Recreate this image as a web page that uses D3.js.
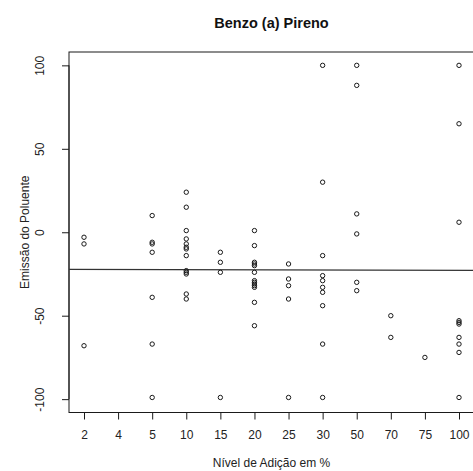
<!DOCTYPE html>
<html>
<head>
<meta charset="utf-8">
<script src="https://cdn.jsdelivr.net/npm/d3@7"></script>
<style>
  html, body { margin: 0; padding: 0; background: #fff; }
  svg { display: block; font-family: "Liberation Sans", Arial, sans-serif; }
</style>
</head>
<body>
<svg id="chart" width="473" height="471"></svg>
<script>
// Addition levels (%) shown as ordered categories along x
const levels = ["2", "4", "5", "10", "15", "20", "25", "30", "50", "70", "75", "100"];

// Pollutant emission observed at each addition level
const level2   = [-3, -7, -68];
const level4   = [];
const level5   = [10, -6, -7, -12, -39, -67, -99];
const level10  = [24, 15, 1, -4, -7, -9, -10, -14, -23, -24, -25, -37, -40];
const level15  = [-12, -18, -24, -99];
const level20  = [1, -8, -18, -19, -20, -24, -29, -30, -31, -32, -33, -42, -56];
const level25  = [-19, -28, -32, -40, -99];
const level30  = [100, 30, -14, -26, -29, -33, -36, -44, -67, -99];
const level50  = [100, 88, 11, -1, -30, -35];
const level70  = [-50, -63];
const level75  = [-75];
const level100 = [100, 65, 6, -53, -54, -55, -63, -67, -72, -99];

const emissions = [level2, level4, level5, level10, level15, level20,
                   level25, level30, level50, level70, level75, level100];

// Fitted linear trend (emission against level index)
const trendIntercept = -22.17;
const trendSlope = -0.059;

const yTicks = [-100, -50, 0, 50, 100];

const title = "Benzo (a) Pireno";
const xTitle = "Nível de Adição em %";
const yTitle = "Emissão do Poluente";

const points = emissions.flatMap((vals, i) => vals.map(v => ({ idx: i + 1, v })));

const svg = d3.select("#chart");
const plotLeft = 69, plotRight = 474, plotTop = 52, plotBottom = 412.5;

const x = d3.scaleLinear().domain([0.56, levels.length + 0.44]).range([plotLeft, plotRight]);
const y = d3.scaleLinear().domain([-108, 108]).range([plotBottom, plotTop]);

const ink = "#1a1a1a";

// Plot frame
svg.append("rect")
  .attr("x", plotLeft).attr("y", plotTop)
  .attr("width", plotRight - plotLeft).attr("height", plotBottom - plotTop)
  .attr("fill", "none").attr("stroke", ink).attr("stroke-width", 1);

// X axis
const xAxis = d3.axisBottom(x)
  .tickValues(d3.range(1, levels.length + 1))
  .tickFormat(d => levels[d - 1])
  .tickSize(7).tickPadding(11);
const gx = svg.append("g").attr("transform", `translate(0,${plotBottom})`).call(xAxis);
gx.select(".domain").attr("d", `M${x(1)},0H${x(levels.length)}`).attr("stroke", ink);
gx.selectAll(".tick line").attr("stroke", ink);
gx.selectAll(".tick text").attr("font-size", 12).attr("fill", "#222")
  .attr("font-family", "Liberation Sans, Arial, sans-serif");

// Y axis with labels parallel to the axis (plain hyphen for negatives)
const yAxis = d3.axisLeft(y).tickValues(yTicks).tickSize(7).tickFormat(d => String(d));
const gy = svg.append("g").attr("transform", `translate(${plotLeft},0)`).call(yAxis);
gy.select(".domain").attr("d", `M0,${y(-100)}V${y(100)}`).attr("stroke", ink);
gy.selectAll(".tick line").attr("stroke", ink);
gy.selectAll(".tick text")
  .attr("font-size", 12).attr("fill", "#222")
  .attr("font-family", "Liberation Sans, Arial, sans-serif")
  .attr("x", null).attr("dy", null)
  .attr("text-anchor", "middle")
  .attr("transform", "translate(-25,0) rotate(-90)")
  .attr("y", 0);

// Trend line across the full plot width
svg.append("line")
  .attr("x1", plotLeft).attr("x2", plotRight)
  .attr("y1", y(trendIntercept + trendSlope * x.invert(plotLeft)))
  .attr("y2", y(trendIntercept + trendSlope * x.invert(plotRight)))
  .attr("stroke", "#333").attr("stroke-width", 1.3);

// Observations as open circles
svg.append("g").selectAll("circle").data(points).join("circle")
  .attr("cx", d => x(d.idx))
  .attr("cy", d => y(d.v))
  .attr("r", 2.2)
  .attr("fill", "none")
  .attr("stroke", ink)
  .attr("stroke-width", 1);

// Titles
svg.append("text")
  .attr("x", (plotLeft + plotRight) / 2).attr("y", 28)
  .attr("text-anchor", "middle")
  .attr("font-size", 14.5).attr("font-weight", "bold").attr("fill", "#111")
  .text(title);

svg.append("text")
  .attr("x", (plotLeft + plotRight) / 2).attr("y", 467)
  .attr("text-anchor", "middle")
  .attr("font-size", 12).attr("fill", "#222")
  .text(xTitle);

svg.append("text")
  .attr("transform", `translate(29,${(plotTop + plotBottom) / 2}) rotate(-90)`)
  .attr("text-anchor", "middle")
  .attr("font-size", 12).attr("fill", "#222")
  .text(yTitle);
</script>
</body>
</html>
